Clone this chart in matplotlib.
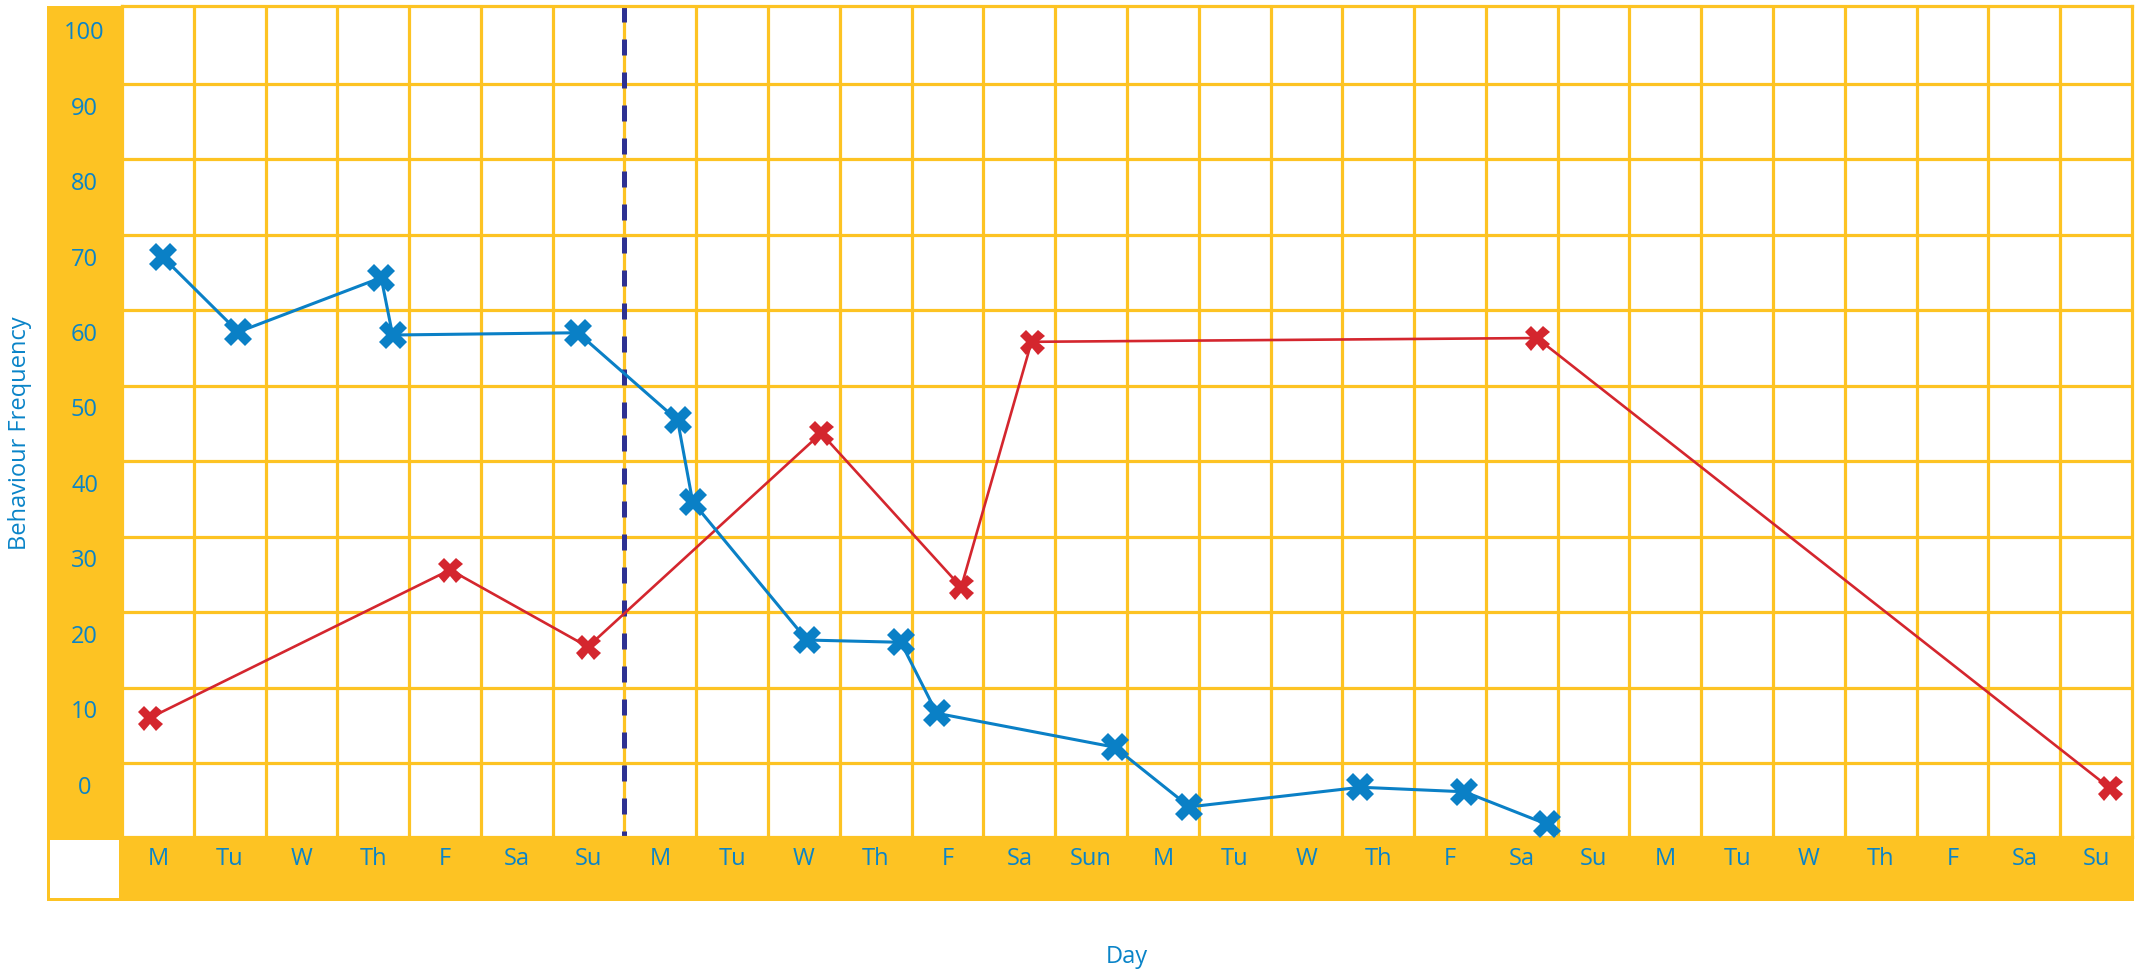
import matplotlib
matplotlib.use("Agg")
import matplotlib.pyplot as plt
from matplotlib.patches import Rectangle
import numpy as np

plt.rcParams['font.family'] = ['Open Sans', 'DejaVu Sans']

# ---- data ----
days = ['M', 'Tu', 'W', 'Th', 'F', 'Sa', 'Su',
        'M', 'Tu', 'W', 'Th', 'F', 'Sa', 'Sun',
        'M', 'Tu', 'W', 'Th', 'F', 'Sa', 'Su',
        'M', 'Tu', 'W', 'Th', 'F', 'Sa', 'Su']
y_ticks = [0, 10, 20, 30, 40, 50, 60, 70, 80, 90, 100]

blue_x = [0.07, 1.12, 3.11, 3.27, 5.85, 7.24, 7.45, 9.04, 10.35, 10.85,
          13.33, 14.37, 16.75, 18.20, 19.35]
blue_y = [69.9, 60.0, 67.2, 59.6, 59.9, 48.3, 37.5, 19.2, 18.9, 9.5,
          5.0, -2.9, -0.3, -0.9, -5.2]

red_x = [-0.11, 4.07, 5.99, 9.24, 11.19, 12.17, 19.21, 27.19]
red_y = [8.9, 28.5, 18.3, 46.6, 26.2, 58.7, 59.2, -0.4]

phase_change_x = 6.5

# ---- style ----
YELLOW = '#fdc323'
BLUE = '#0a80c6'
RED = '#d4262e'
TEXT = '#0a84c8'
DASH = '#2e3192'

W, H = 2138, 972
fig = plt.figure(figsize=(W / 100, H / 100), dpi=100)
fig.patch.set_facecolor('white')

def fx(px):
    return px / W

def fy(py):
    return (H - py) / H

# yellow frame behind the grid
fig.add_artist(Rectangle((fx(47), fy(901)), fx(2134) - fx(47), fy(6) - fy(901),
                         transform=fig.transFigure, facecolor=YELLOW,
                         edgecolor='none', zorder=-2))
# white corner box
fig.add_artist(Rectangle((fx(50), fy(898)), fx(119) - fx(50), fy(840) - fy(898),
                         transform=fig.transFigure, facecolor='white',
                         edgecolor='none', zorder=-1))

ax = fig.add_axes([fx(122), fy(837), fx(2132) - fx(122), fy(6) - fy(837)])
ax.set_facecolor('white')

ylo, yhi = -6.89, 103.18
ax.set_xlim(-0.5, len(days) - 0.5)
ax.set_ylim(ylo, yhi)

# grid via minor ticks (cell boundaries)
ax.set_xticks(np.arange(0.5, len(days) - 0.5, 1.0), minor=True)
ax.set_yticks(np.arange(2.91, 100, 10.0), minor=True)
ax.grid(which='minor', color=YELLOW, linewidth=2.3)
ax.tick_params(which='both', length=0)

ax.set_xticks(range(len(days)))
ax.set_xticklabels(days, fontsize=17, color=TEXT)
ax.set_yticks(y_ticks)
ax.set_yticklabels([str(v) for v in y_ticks], fontsize=17, color=TEXT)
ax.tick_params(axis='x', which='major', pad=16)
ax.tick_params(axis='y', which='major', pad=27)
for t in ax.get_xticklabels():
    t.set_va('center')
for t in ax.get_yticklabels():
    t.set_ha('center')

for s in ax.spines.values():
    s.set_color(YELLOW)
    s.set_linewidth(2.3)

ax.set_axisbelow(True)

# phase change dashed line (drawn top to bottom)
ax.axvline(phase_change_x, ymin=1, ymax=0, color=DASH, linewidth=3.6,
           dashes=(3.2, 3.4), zorder=2)

ax.plot(blue_x, blue_y, color=BLUE, linewidth=2.2, marker='X',
        markersize=20, markeredgewidth=0, zorder=4, clip_on=False)
ax.plot(red_x, red_y, color=RED, linewidth=1.9, marker='X',
        markersize=18, markeredgewidth=0, zorder=3, clip_on=False)

fig.text(fx(20), fy(433), 'Behaviour Frequency', rotation=90, color=TEXT,
         fontsize=17, ha='center', va='center')
fig.text(fx(1127), fy(957), 'Day', color=TEXT, fontsize=17,
         ha='center', va='center')

fig.savefig('out.png', dpi=100, facecolor='white')
